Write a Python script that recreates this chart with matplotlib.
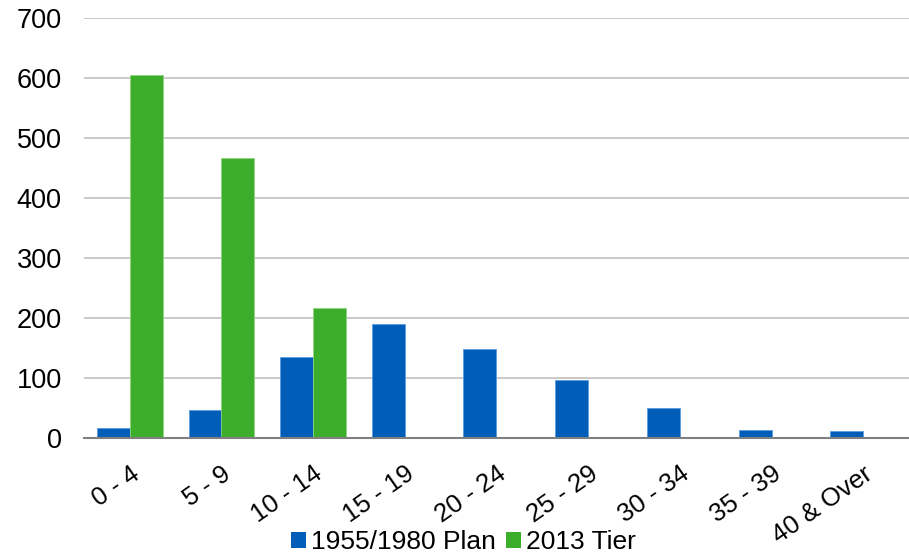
import matplotlib
matplotlib.use("Agg")
import matplotlib.pyplot as plt
import numpy as np
from matplotlib.patches import Patch

categories = ["0 - 4", "5 - 9", "10 - 14", "15 - 19", "20 - 24",
              "25 - 29", "30 - 34", "35 - 39", "40 & Over"]
plan_1955_1980 = [16, 46, 135, 190, 148, 96, 50, 13, 11]
tier_2013 = [605, 467, 216, 0, 0, 0, 0, 0, 0]
series_names = ["1955/1980 Plan", "2013 Tier"]
y_ticks = [0, 100, 200, 300, 400, 500, 600, 700]

blue = "#005EB8"
green = "#3DAE2B"

plt.rcParams["font.family"] = ["Liberation Sans", "DejaVu Sans"]

fig = plt.figure(figsize=(9.09, 5.55), dpi=100)
ax = fig.add_axes([84 / 909, 1 - 438 / 555, (909 - 84) / 909, (438 - 18) / 555])

x = np.arange(len(categories))
w = 0.36
ax.bar(x - w / 2, plan_1955_1980, width=w, color=blue,
       edgecolor="#5A9BE0", linewidth=0.6, zorder=3)
green_vals = np.array(tier_2013, dtype=float)
mask = green_vals > 0
ax.bar(x[mask] + w / 2, green_vals[mask], width=w, color=green,
       edgecolor="#8FD47F", linewidth=0.6, zorder=3)

ax.set_xlim(-0.5, len(categories) - 0.5)
ax.set_ylim(0, 700)
ax.set_yticks(y_ticks)
ax.set_yticklabels([str(t) for t in y_ticks], fontsize=19.5)
ax.set_xticks(x)
ax.set_xticklabels(categories, rotation=35, ha="right", rotation_mode="anchor",
                   fontsize=18.5)

ax.grid(axis="y", color="#C0C0C0", linewidth=1.2, zorder=0)
ax.tick_params(axis="y", length=0, pad=16)
ax.tick_params(axis="x", length=0, pad=17)
for side in ["top", "right", "left"]:
    ax.spines[side].set_visible(False)
ax.spines["bottom"].set_color("#808080")
ax.spines["bottom"].set_linewidth(1.5)
ax.spines["bottom"].set_zorder(4)

handles = [Patch(facecolor=blue, edgecolor="none"),
           Patch(facecolor=green, edgecolor="none")]
fig.legend(handles, series_names, loc="center", bbox_to_anchor=(0.51, 1 - 542 / 555),
           ncol=2, frameon=False, fontsize=19, handlelength=0.55, handleheight=0.55,
           handletextpad=0.2, columnspacing=0.4, borderpad=0.1)

fig.savefig("out.png", dpi=100)
